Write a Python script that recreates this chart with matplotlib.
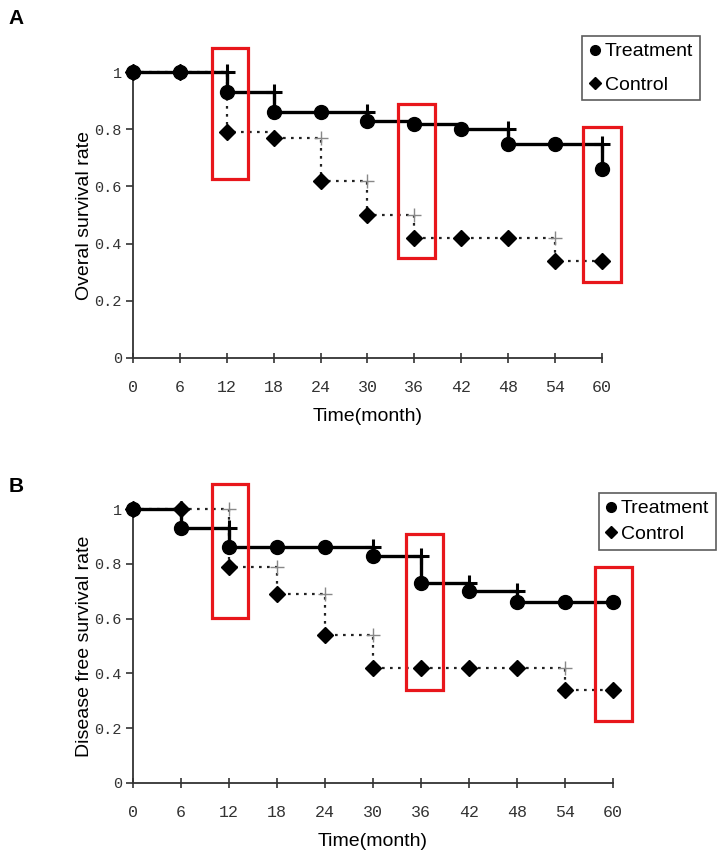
import numpy as np
import matplotlib
matplotlib.use("Agg")
import matplotlib.pyplot as plt
from matplotlib.patches import Rectangle

# data
months = [0, 6, 12, 18, 24, 30, 36, 42, 48, 54, 60]

os_treatment = [1.0, 1.0, 0.93, 0.86, 0.86, 0.83, 0.82, 0.80, 0.75, 0.75, 0.66]
os_control = [1.0, 1.0, 0.79, 0.77, 0.62, 0.50, 0.42, 0.42, 0.42, 0.34, 0.34]
os_treat_cens = [12, 18, 30, 48, 60]
os_ctrl_cens = [24, 30, 36, 54]

dfs_treatment = [1.0, 0.93, 0.86, 0.86, 0.86, 0.83, 0.73, 0.70, 0.66, 0.66, 0.66]
dfs_control = [1.0, 1.0, 0.79, 0.69, 0.54, 0.42, 0.42, 0.42, 0.42, 0.34, 0.34]
dfs_treat_cens = [6, 12, 30, 36, 42, 48]
dfs_ctrl_cens = [12, 18, 24, 30, 54]

# highlighted regions (t0, t1, y0, y1)
os_boxes = [(10.1, 14.7, 0.626, 1.084), (33.9, 38.6, 0.35, 0.89), (57.6, 62.4, 0.266, 0.808)]
dfs_boxes = [(9.9, 14.4, 0.602, 1.091), (34.1, 38.75, 0.339, 0.909), (57.75, 62.4, 0.226, 0.788)]

tick_font = "Liberation Mono"
label_font = "Liberation Sans"


def level_before(t, vals):
    i = months.index(t)
    return vals[i - 1]


def draw_panel(ax, treat, ctrl, tcens, ccens, boxes, ylabel):
    # control (dotted)
    ax.plot(months, ctrl, drawstyle="steps-post", color="#222222", lw=1.6,
            ls=(0, (1.2, 2.4)), clip_on=False, zorder=2)
    ax.plot(ccens, [level_before(c, ctrl) for c in ccens], "+", color="#888888",
            ms=10, mew=1.0, clip_on=False, zorder=2)
    ax.plot(months, ctrl, "D", color="black", ms=8, ls="none", clip_on=False, zorder=3)
    # treatment (solid)
    ax.plot(months, treat, drawstyle="steps-post", color="black", lw=2.4,
            clip_on=False, zorder=4)
    ax.plot(tcens, [level_before(c, treat) for c in tcens], "+", color="black",
            ms=12, mew=2.2, clip_on=False, zorder=4)
    ax.plot(months, treat, "o", color="black", ms=10, ls="none", clip_on=False, zorder=5)

    for t0, t1, y0, y1 in boxes:
        ax.add_patch(Rectangle((t0, y0), t1 - t0, y1 - y0, fill=False,
                               ec="#e8161b", lw=2.3, clip_on=False, zorder=6))

    ax.set_xlim(0, 60)
    ax.set_ylim(0, 1)
    ax.set_xticks(months)
    ax.set_yticks([0, 0.2, 0.4, 0.6, 0.8, 1])
    ax.set_yticklabels(["0", "0.2", "0.4", "0.6", "0.8", "1"])
    for s in ["top", "right"]:
        ax.spines[s].set_visible(False)
    ax.spines["left"].set_color("#333333")
    ax.spines["bottom"].set_color("#333333")
    ax.spines["left"].set_linewidth(1.3)
    ax.spines["bottom"].set_linewidth(1.3)
    ax.tick_params(axis="x", direction="inout", length=7, width=1.2, pad=12,
                   labelsize=12, colors="#333333")
    ax.tick_params(axis="y", direction="out", length=5, width=1.2, pad=3,
                   labelsize=11, colors="#333333")
    for lab in ax.get_xticklabels() + ax.get_yticklabels():
        lab.set_family(tick_font)
    ax.set_xlabel("Time(month)", family=label_font, fontsize=14, labelpad=10)
    ax.set_ylabel(ylabel, family=label_font, fontsize=14, labelpad=1)


fig = plt.figure(figsize=(7.17, 8.56), dpi=100)
axA = fig.add_axes([0.1855, 0.5818, 0.654, 0.334])
axB = fig.add_axes([0.1855, 0.0853, 0.6695, 0.320])

draw_panel(axA, os_treatment, os_control, os_treat_cens, os_ctrl_cens, os_boxes,
           "Overal survival rate")
draw_panel(axB, dfs_treatment, dfs_control, dfs_treat_cens, dfs_ctrl_cens, dfs_boxes,
           "Disease free survival rate")

for ax, anchor, spacing in [(axA, (0.976, 0.958), 0.8), (axB, (0.999, 0.424), 0.4)]:
    h1, = ax.plot([], [], "o", color="black", ms=7)
    h2, = ax.plot([], [], "D", color="black", ms=6)
    leg = ax.legend([h1, h2], ["Treatment", "Control"], loc="upper right",
                    bbox_to_anchor=anchor, bbox_transform=fig.transFigure,
                    frameon=True, fancybox=False, edgecolor="#333333",
                    prop={"family": label_font, "size": 14}, handlelength=0.6,
                    handletextpad=0.2, labelspacing=spacing, borderpad=0.35,
                    borderaxespad=0)
    leg.get_frame().set_linewidth(1.2)

fig.text(0.012, 0.978, "A", family=label_font, weight="bold", fontsize=15, va="center")
fig.text(0.012, 0.432, "B", family=label_font, weight="bold", fontsize=15, va="center")

fig.savefig("out.png", dpi=100)
